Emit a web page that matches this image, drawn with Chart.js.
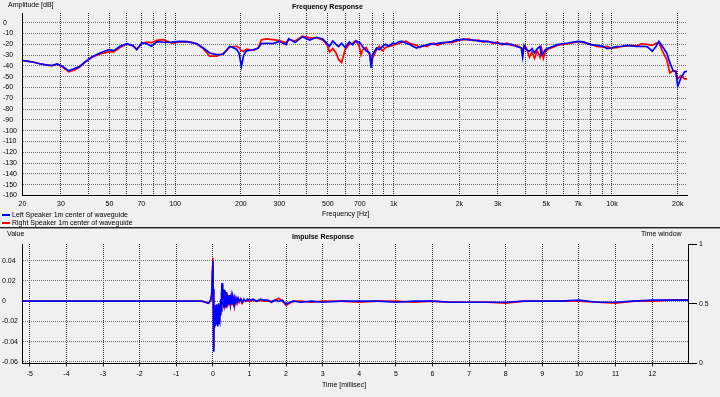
<!DOCTYPE html>
<html>
<head>
<meta charset="utf-8">
<script src="https://cdn.jsdelivr.net/npm/chart.js@4.4.1/dist/chart.umd.min.js"></script>
<style>
body { margin: 0; background: #f0f0f0; width: 720px; height: 397px; overflow: hidden; position: relative;
       font-family: "Liberation Sans", Arial, sans-serif; font-size: 7px; color: #000; }
.t { position: absolute; white-space: nowrap; line-height: 1; }
.b { font-weight: bold; }
.key { position: absolute; width: 8px; height: 2px; }
canvas { position: absolute; left: 0; }
#sep { position: absolute; left: 0; top: 227px; width: 720px; height: 1px; background: #222; }
#sep2 { position: absolute; left: 0; top: 228px; width: 720px; height: 1px; background: #999; }
</style>
</head>
<body>
<canvas id="fr" width="720" height="229" style="top:0"></canvas>
<canvas id="ir" width="720" height="168" style="top:229px"></canvas>
<div id="sep"></div><div id="sep2"></div>

<div class="t" style="left:8px;top:1px">Amplitude [dB]</div>
<div class="t b" style="left:292px;top:3px">Frequency Response</div>
<div class="t" style="left:322px;top:210px">Frequency [Hz]</div>
<div class="key" style="left:2px;top:214px;background:#0000ff"></div>
<div class="t" style="left:12px;top:211px">Left Speaker 1m center of waveguide</div>
<div class="key" style="left:2px;top:222px;background:#ff0000"></div>
<div class="t" style="left:12px;top:219px">Right Speaker 1m center of waveguide</div>

<div class="t" style="left:7px;top:230px">Value</div>
<div class="t b" style="left:292px;top:233px">Impulse Response</div>
<div class="t" style="left:641px;top:230px">Time window</div>
<div class="t" style="left:322px;top:381px">Time [millisec]</div>

<script>
// frequency response (Hz / dB)
const freqs = [
  20, 21, 22.5, 24, 25.5, 27.3, 28.8, 30.3, 32.6, 34.4,
  36.3, 38.5, 41.5, 45.3, 49.8, 52.4, 55.9, 60, 64.2, 66.7,
  70.3, 74, 78, 82.5, 88.3, 96.6, 105, 113, 121, 126,
  134.5, 144, 155, 166, 178, 191, 196, 201, 206, 212,
  228, 240, 248, 261, 280, 300, 322, 331, 354, 383,
  413, 445, 474, 495, 509, 527, 545, 560, 578, 600,
  627, 650, 672, 697, 710, 721, 750, 777, 790, 800,
  836, 860, 888, 920, 952, 990, 1023, 1060, 1099, 1140,
  1185, 1230, 1276, 1320, 1372, 1420, 1479, 1530, 1589, 1680,
  1761, 1850, 1952, 2020, 2100, 2200, 2323, 2450, 2565, 2700,
  2840, 2990, 3140, 3300, 3470, 3650, 3840, 3900, 3960, 4050,
  4190, 4300, 4420, 4550, 4680, 4760, 4850, 4950, 5130, 5350,
  5600, 5950, 6300, 6650, 7000, 7400, 8000, 8500, 9100, 9500,
  9900, 10500, 11100, 11700, 12250, 13000, 13600, 14480, 15300, 15900,
  16400, 17000, 17800, 18400, 19070, 19600, 20000, 20700, 21500, 22050
];
const leftDb = [
  -35, -35.5, -36.6, -38, -39, -39.7, -38.2, -40, -44.6, -42.7,
  -40.9, -36.6, -31.7, -28, -25, -25.8, -21.8, -19.4, -21.2, -25,
  -18.8, -19.5, -21.8, -17.5, -18.1, -18, -17.3, -17.5, -18.8, -19.5,
  -23.4, -28, -29.5, -29.2, -21.8, -24.6, -28, -40.3, -30, -26,
  -25, -23.5, -19.4, -19, -19.4, -17.3, -20.3, -14.8, -18.4, -12.9,
  -16, -13.5, -15, -19, -21.8, -17, -20, -22, -19, -23,
  -17.8, -20.5, -17, -18.1, -20, -22, -26, -28, -41.8, -30,
  -23.4, -25, -22, -20, -21.8, -19, -19.4, -17.5, -17.3, -19,
  -20, -22, -23.4, -22, -21.5, -20.5, -19.4, -20, -19.2, -18.5,
  -18.1, -17.5, -15.7, -16, -15, -16, -16, -17, -17, -17.5,
  -18.1, -19, -19.4, -20, -20, -22, -23.4, -32, -21.2, -25,
  -26.4, -24, -28, -24, -22, -30, -28, -25, -23.4, -22,
  -20.3, -19.5, -18.8, -18, -17.3, -17.8, -20.3, -21, -21.8, -24,
  -23.4, -22, -21.8, -21, -21.4, -22, -21.8, -22.2, -26.4, -22,
  -17.3, -21.8, -28, -37, -44.5, -45.4, -58.8, -51, -45.4, -45
];
const rightDb = [
  -35, -35.5, -36.6, -38, -39, -39.7, -38.5, -40.5, -45.5, -44,
  -41.5, -37, -32, -29, -27, -27, -23, -19.8, -21.5, -24.5,
  -19.5, -18, -18.5, -16.3, -15.7, -19, -17.8, -17.5, -18.5, -20,
  -24, -31, -31, -28.5, -22.5, -21.8, -23, -26, -26.5, -24.5,
  -25.5, -23.5, -16, -15, -15.7, -16.5, -18.5, -15.5, -17, -12.5,
  -14, -14, -16, -20, -27, -24, -28, -34, -37, -25,
  -20, -19, -16.5, -22, -29.8, -25, -23, -30, -38, -33,
  -25, -22, -26, -23, -22, -21, -20, -19, -18, -17,
  -19, -20, -21, -23, -21, -22, -20, -19, -21, -19,
  -18, -18.5, -17, -15.5, -16, -15, -16.5, -16, -18, -17,
  -19, -18, -20.5, -19, -21, -21, -23, -25, -22, -23,
  -32, -27, -33, -26, -32, -24, -33, -27, -24, -23,
  -21, -20, -19.5, -18.5, -17.5, -18.5, -20, -22, -22.5, -22,
  -23.5, -23, -22, -21.5, -21, -21.5, -19.5, -20, -21, -19,
  -18.5, -26, -34, -46.4, -44.5, -44.5, -52, -49, -52, -52
];
const freqGrid = [20, 30, 40, 50, 60, 70, 80, 90, 100, 200, 300, 400, 500, 600, 700, 800, 900,
  1000, 2000, 3000, 4000, 5000, 6000, 7000, 8000, 9000, 10000, 20000];
const freqTickLabels = ['20', '30', '', '50', '', '70', '', '', '100', '200', '300', '', '500', '', '700', '', '',
  '1k', '2k', '3k', '', '5k', '', '7k', '', '', '10k', '20k'];
const dbTicks = [-160, -150, -140, -130, -120, -110, -100, -90, -80, -70, -60, -50, -40, -30, -20, -10, 0];

// impulse response (ms / value)
const times = [
  -5.2, -0.3, -0.2, -0.12, -0.06, -0.03, -0.01, 0.0, 0.01, 0.02,
  0.03, 0.04, 0.05, 0.06, 0.07, 0.08, 0.09, 0.10, 0.11, 0.12,
  0.13, 0.14, 0.15, 0.16, 0.17, 0.18, 0.19, 0.20, 0.21, 0.22,
  0.23, 0.24, 0.25, 0.26, 0.27, 0.28, 0.29, 0.30, 0.31, 0.32,
  0.33, 0.34, 0.35, 0.36, 0.37, 0.38, 0.39, 0.40, 0.42, 0.44,
  0.46, 0.48, 0.50, 0.52, 0.54, 0.56, 0.58, 0.60, 0.63, 0.66,
  0.69, 0.72, 0.76, 0.80, 0.85, 0.90, 0.95, 1.0, 1.1, 1.2,
  1.3, 1.4, 1.5, 1.6, 1.7, 1.8, 1.9, 2.0, 2.1, 2.2,
  2.4, 2.7, 3.0, 3.5, 4.0, 4.5, 5.0, 5.5, 6.0, 6.5,
  7.0, 7.5, 8.0, 8.5, 9.0, 9.5, 10.0, 10.5, 11.0, 11.5,
  12.0, 12.5, 12.98
];
const leftImp = [
  0, 0, -0.001, -0.002, 0.001, 0.006, 0.030, 0.040, 0.012, -0.050,
  -0.030, -0.012, -0.026, -0.004, -0.024, -0.008, -0.022, -0.003, -0.020, -0.010,
  -0.025, -0.006, -0.022, -0.002, -0.018, -0.004, -0.020, -0.006, -0.014, 0.002,
  -0.010, 0.008, 0.018, 0.006, 0.015, -0.002, 0.012, -0.004, 0.010, -0.006,
  0.011, -0.003, 0.008, -0.005, 0.009, -0.002, 0.006, -0.004, 0.005, -0.003,
  0.006, -0.002, 0.004, -0.003, 0.004, -0.001, 0.003, -0.002, 0.003, -0.001,
  0.003, 0.000, 0.002, -0.001, 0.002, 0.000, 0.002, 0.001, 0.002, 0.000,
  0.002, 0.001, 0.001, -0.001, 0.001, 0.000, 0.001, -0.003, -0.001, 0.000,
  -0.001, 0.000, -0.001, 0.000, 0.000, 0.000, -0.001, 0.000, 0.000, -0.001,
  -0.001, -0.001, -0.001, 0.000, 0.000, 0.000, 0.001, -0.001, -0.001, 0.000,
  0.001, 0.001, 0.001
];
const rightImp = [
  0, 0, -0.001, -0.002, 0.001, 0.008, 0.034, 0.043, 0.010, -0.046,
  -0.028, -0.014, -0.024, -0.006, -0.022, -0.010, -0.021, -0.004, -0.019, -0.011,
  -0.023, -0.007, -0.020, -0.003, -0.017, -0.005, -0.018, -0.007, -0.013, 0.001,
  -0.009, 0.007, 0.016, 0.007, 0.013, -0.001, 0.011, -0.003, 0.009, -0.005,
  0.010, -0.004, 0.007, -0.006, 0.008, -0.003, 0.007, -0.005, 0.006, -0.004,
  0.005, -0.003, 0.003, -0.004, 0.003, -0.002, 0.002, -0.003, 0.002, -0.002,
  0.002, -0.001, 0.002, -0.002, 0.001, 0.000, 0.001, 0.000, 0.001, 0.000,
  0.001, 0.000, 0.000, 0.000, 0.001, 0.003, 0.000, -0.004, -0.002, 0.000,
  0.000, -0.001, 0.000, 0.000, -0.001, 0.000, 0.000, -0.001, 0.000, -0.001,
  -0.001, -0.001, -0.002, 0.000, 0.000, 0.000, 0.000, -0.001, -0.002, 0.000,
  0.000, 0.001, 0.001
];
const timeTicks = [-5, -4, -3, -2, -1, 0, 1, 2, 3, 4, 5, 6, 7, 8, 9, 10, 11, 12];
const valueTicks = [-0.06, -0.04, -0.02, 0, 0.02, 0.04];
const valueTickLabels = ['-0.06', '-0.04', '-0.02', '0', '0.02', '0.04'];
const windowTicks = [0, 0.5, 1];
const windowTickLabels = ['0', '0.5', '1'];

const tickFont = { family: 'Liberation Sans', size: 7 };
const setTicks = list => scale => { scale.ticks = list.map(v => ({ value: v })); };

function pairs(xs, ys) {
    return xs.map((x, i) => ({ x: x, y: ys[i] }));
}

function lineSet(label, data, color) {
    return { label: label, data: data, borderColor: color, borderWidth: 1.7,
             pointRadius: 0, tension: 0, fill: false };
}

new Chart(document.getElementById('fr'), {
    type: 'line',
    data: {
        datasets: [
            lineSet('Left Speaker 1m center of waveguide', pairs(freqs, leftDb), '#0000ff'),
            lineSet('Right Speaker 1m center of waveguide', pairs(freqs, rightDb), '#ff0000')
        ]
    },
    options: {
        responsive: false, animation: false, devicePixelRatio: 1,
        layout: { padding: { left: 3, top: 13, right: 33, bottom: 0 } },
        plugins: { legend: { display: false }, tooltip: { enabled: false } },
        scales: {
            x: {
                type: 'logarithmic', min: 20, max: 22050,
                afterBuildTicks: setTicks(freqGrid),
                afterFit: s => { s.height = 33.5; },
                ticks: { autoSkip: false, maxRotation: 0, padding: 4, color: '#000', font: tickFont,
                         callback: (v, i) => freqTickLabels[i] },
                grid: { color: '#333', drawTicks: false },
                border: { color: '#000', width: 1, dash: [1, 1] }
            },
            y: {
                min: -160, max: 9, bounds: 'data',
                afterBuildTicks: setTicks(dbTicks),
                afterFit: s => { s.width = 19.5; },
                ticks: { crossAlign: 'far', padding: 0, color: '#000', font: tickFont },
                grid: { color: '#707070', drawTicks: false },
                border: { color: '#000', width: 1, dash: [1, 1] }
            }
        }
    }
});

new Chart(document.getElementById('ir'), {
    type: 'line',
    data: {
        datasets: [
            lineSet('Left Speaker 1m center of waveguide', pairs(times, leftImp), '#0000ff'),
            lineSet('Right Speaker 1m center of waveguide', pairs(times, rightImp), '#ff0000')
        ]
    },
    options: {
        responsive: false, animation: false, devicePixelRatio: 1,
        layout: { padding: { left: 2, top: 15, right: 0, bottom: 0 } },
        plugins: { legend: { display: false }, tooltip: { enabled: false } },
        scales: {
            x: {
                type: 'linear', min: -5.2, max: 12.98,
                afterBuildTicks: setTicks(timeTicks),
                afterFit: s => { s.height = 33.5; },
                ticks: { autoSkip: false, maxRotation: 0, padding: 3, color: '#000', font: tickFont },
                grid: { color: '#333', tickLength: 3 },
                border: { color: '#000', width: 1, dash: [1, 1] }
            },
            y: {
                min: -0.0615, max: 0.0565, bounds: 'data',
                afterBuildTicks: setTicks(valueTicks),
                afterFit: s => { s.width = 20.5; },
                ticks: { crossAlign: 'far', padding: 0, color: '#000', font: tickFont,
                         callback: (v, i) => valueTickLabels[i] },
                grid: { color: '#707070', drawTicks: false },
                border: { color: '#000', width: 1, dash: [1, 1] }
            },
            y2: {
                position: 'right', min: 0, max: 1, bounds: 'data',
                afterBuildTicks: setTicks(windowTicks),
                afterFit: s => { s.width = 32; },
                ticks: { padding: 2, color: '#000', font: tickFont,
                         callback: (v, i) => windowTickLabels[i] },
                grid: { drawOnChartArea: false, tickLength: 9, color: '#000' },
                border: { color: '#000', width: 1 }
            }
        }
    }
});
</script>
</body>
</html>
